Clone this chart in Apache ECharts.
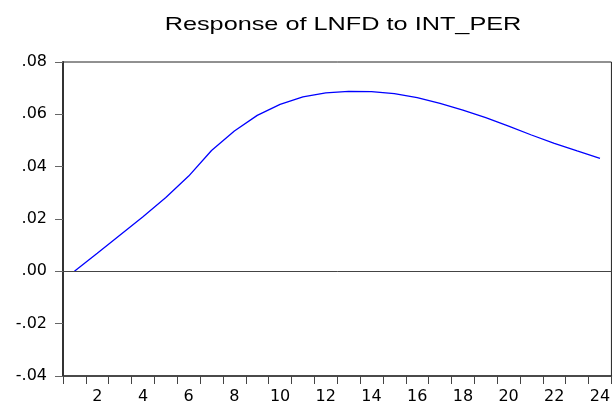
<!DOCTYPE html>
<html>
<head>
<meta charset="utf-8">
<script src="https://cdn.jsdelivr.net/npm/echarts@6/dist/echarts.min.js"></script>
<style>
  html, body { margin: 0; padding: 0; background: #fff; }
  #chart { width: 613px; height: 410px; }
</style>
</head>
<body>
<div id="chart"></div>
<script>
// impulse response, periods 1..24
const periods = ['1', '2', '3', '4', '5', '6', '7', '8', '9', '10', '11', '12',
  '13', '14', '15', '16', '17', '18', '19', '20', '21', '22', '23', '24']
const response = [
  0.0000, 0.0069, 0.0139, 0.0209, 0.0282, 0.0364, 0.0462, 0.0536,
  0.0596, 0.0638, 0.0667, 0.0682, 0.0688, 0.0687, 0.0679, 0.0664,
  0.0642, 0.0616, 0.0587, 0.0555, 0.0521, 0.0489, 0.0460, 0.0432
]
const yTickLabels = ['-.04', '-.02', '.00', '.02', '.04', '.06', '.08']

const titleText = 'Response of LNFD to INT_PER'

const labelFont = 'DejaVu Sans, Verdana, sans-serif'

const chart = echarts.init(document.getElementById('chart'))

function fmtY(v) {
  const idx = Math.round((v + 0.04) / 0.02)
  return yTickLabels[idx] ?? ''
}

chart.setOption({
  backgroundColor: '#fff',
  animation: false,
  // title is stretched sideways like the original export
  graphic: [
    {
      type: 'text',
      x: 343,
      y: 25,
      scaleX: 1.33,
      silent: true,
      style: {
        text: titleText,
        font: '19px "Liberation Sans", Arial, sans-serif',
        fill: '#000',
        align: 'center',
        verticalAlign: 'middle'
      }
    }
  ],
  grid: {
    left: 63,
    top: 62,
    width: 557,
    height: 314,
    show: true,
    borderColor: '#222',
    borderWidth: 1,
    backgroundColor: 'transparent'
  },
  xAxis: {
    type: 'category',
    data: periods,
    boundaryGap: true,
    axisLine: { onZero: false, lineStyle: { color: '#333', width: 1.5 } },
    axisTick: {
      show: true,
      interval: 0,
      length: 8,
      lineStyle: { color: '#444', width: 1 }
    },
    axisLabel: {
      interval: (index) => index % 2 === 1,
      color: '#000',
      fontFamily: labelFont,
      fontSize: 16,
      margin: 13
    },
    splitLine: { show: false }
  },
  yAxis: {
    type: 'value',
    min: -0.04,
    max: 0.08,
    interval: 0.02,
    axisLine: { show: true, lineStyle: { color: '#333', width: 2 } },
    axisTick: {
      show: true,
      length: 8,
      lineStyle: { color: '#666', width: 1 }
    },
    axisLabel: {
      formatter: fmtY,
      color: '#000',
      fontFamily: labelFont,
      fontSize: 16,
      margin: 16
    },
    splitLine: { show: false }
  },
  series: [
    {
      type: 'line',
      data: response,
      symbol: 'none',
      smooth: false,
      lineStyle: { color: '#0000ff', width: 1.3 },
      markLine: {
        silent: true,
        symbol: 'none',
        label: { show: false },
        lineStyle: { color: '#444', width: 1, type: 'solid' },
        data: [{ yAxis: 0 }]
      }
    }
  ]
})
</script>
</body>
</html>
